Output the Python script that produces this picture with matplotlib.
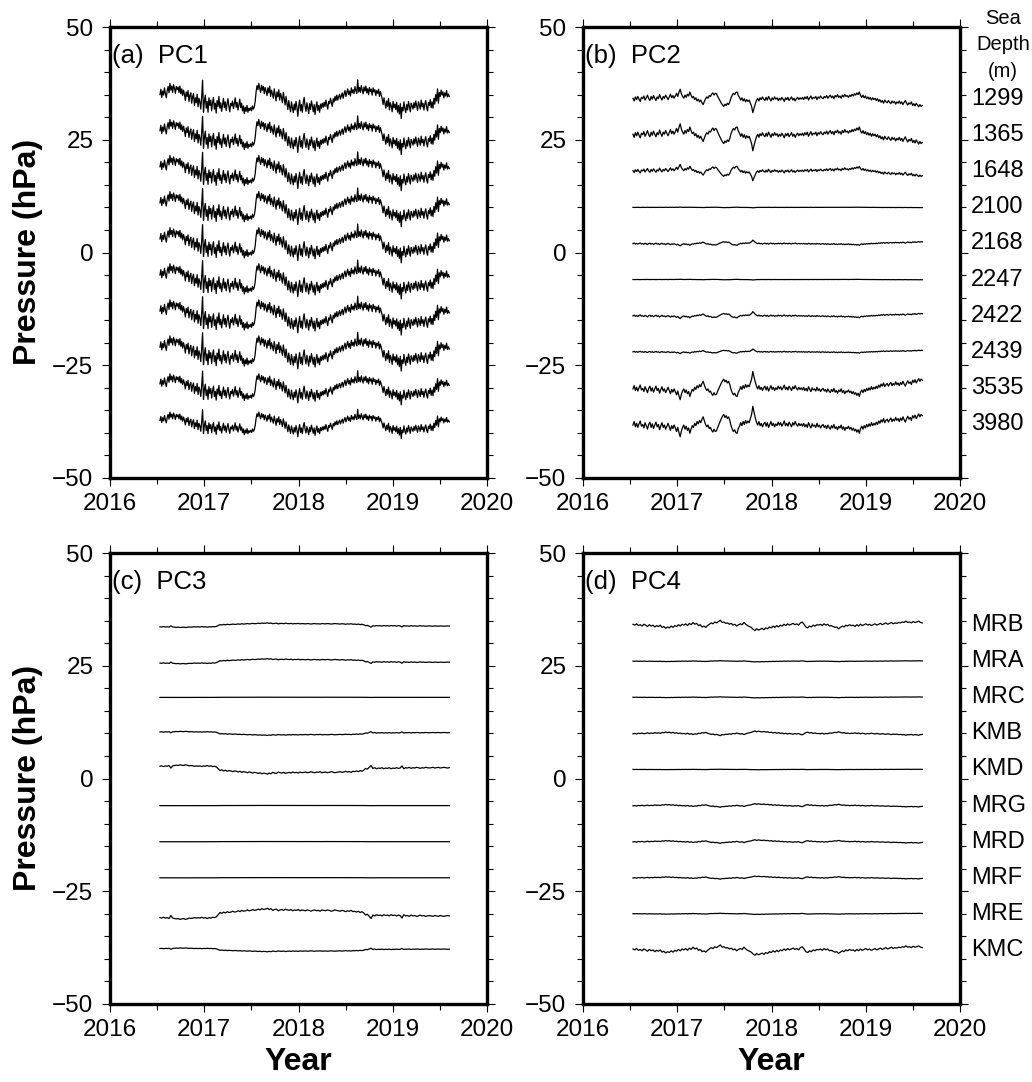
import numpy as np
import matplotlib.pyplot as plt

plt.rcParams['font.family'] = ['Liberation Sans', 'DejaVu Sans']

# station offsets in the stacked plot (hPa) and labels
offsets = [34, 26, 18, 10, 2, -6, -14, -22, -30, -38]
depths = ['1299', '1365', '1648', '2100', '2168', '2247', '2422', '2439', '3535', '3980']
stations = ['MRB', 'MRA', 'MRC', 'KMB', 'KMD', 'MRG', 'MRD', 'MRF', 'MRE', 'KMC']

t_start, t_end = 2016.53, 2019.60

# principal component time series (hPa for a unit loading)
pc1 = [1.0, 2.2, 0.4, 1.8, 0.9, 2.5, 1.2, 0.3, 1.9, 2.8, 1.4, 3.5, 2.0, 2.9, 1.5, 3.2, 2.4, 1.3, 2.8, 2.1,
       2.7, 1.5, 2.9, 1.2, 2.3, 0.8, 2.0, 1.1, -0.3, 1.6, 0.6, 1.9, -0.5, 0.8, 1.4, -0.9, 0.5, 1.2, -1.4, 0.3,
       -0.8, 1.1, -1.7, 0.2, -0.6, -2.2, 0.6, 4.2, -2.9, -0.4, 0.9, -2.0, -0.5, -2.9, 0.3, -1.4, -0.2, -2.6, -0.7, 0.4,
       -2.2, -0.9, -3.1, -0.3, -1.6, 0.6, -2.0, -0.8, -2.7, -1.2, 0.2, -1.9, -0.6, -2.5, -1.0, 0.1, -1.7, -2.8, -0.9, -1.5,
       -0.4, -2.1, -1.0, 0.3, -1.8, -0.7, -2.4, -1.3, 0.0, -1.9, -0.9, -2.6, -1.5, -3.2, -1.8, -2.7, -1.4, -2.9, -2.0, -2.5,
       -1.9, -2.6, -1.5, -2.2, -1.7, -0.5, 1.6, 3.0, 2.1, 3.5, 2.4, 1.5, 3.1, 2.0, 2.8, 1.2, 2.6, 1.8, 0.8, 2.5,
       1.4, 2.9, 0.6, 2.0, 1.2, 0.2, 2.3, 1.0, -0.4, 1.6, 0.5, 2.1, -0.2, 1.3, 0.4, -0.8, 1.5, 0.1, -1.3, 0.6,
       -0.9, -2.3, -0.3, -1.7, -2.8, -0.6, -1.9, -3.0, -1.1, -2.4, -0.5, -1.8, -3.8, -1.5, -0.2, -2.6, -1.2, -2.9, -0.7, 0.4,
       -1.6, -2.7, -0.8, -1.9, -3.2, -1.0, -2.3, -0.4, -1.5, -2.8, -1.2, -3.4, -1.7, -0.6, -2.5, -1.4, -2.9, -1.1, -2.0, -0.9,
       -1.8, -0.7, -1.6, -0.2, -1.3, -2.2, -0.5, -1.0, 0.2, -0.8, -1.6, 0.1, -0.6, 0.6, -0.3, 0.9, -0.2, 0.5, 1.1, 0.0,
       0.8, 1.4, 0.2, 1.2, 1.9, 0.6, 1.5, 2.3, 1.0, 1.8, 0.7, 2.5, 1.4, 2.1, 1.2, 2.8, 1.9, 1.3, 4.3, 1.6,
       2.6, 1.5, 3.0, 2.0, 1.2, 2.7, 1.8, 2.9, 1.4, 2.3, 1.0, 2.6, 1.7, 2.2, 0.9, 2.5, 1.6, 2.1, 0.8, 1.9,
       1.3, 2.2, 0.6, 1.7, 0.9, 0.1, -1.2, 0.3, -0.9, -2.0, -0.4, -1.6, 0.2, -2.4, -0.8, -1.5, -2.8, -0.5, -1.9, -1.1,
       -2.3, -0.7, -2.9, -1.4, -3.3, -1.0, -4.3, -1.8, -2.6, -0.6, -2.1, -3.0, -1.2, -2.4, -0.5, -1.7, -2.8, -0.9, -1.5, -2.2,
       -0.8, -1.9, -0.4, -1.5, -2.5, -0.6, -1.3, -2.2, -0.2, -1.7, -0.9, -2.4, -1.1, -0.3, -1.8, -2.6, -0.7, -1.4, -0.1, -1.9,
       -0.6, -2.0, 0.2, -1.1, 1.0, -0.4, 2.3, -0.9, 1.5, 0.6, 2.0, 0.9, 1.6, 0.3, 1.4, 0.7, 1.9, 0.5, 1.1, 0.6]

pc2 = [0.2, -0.4, 0.5, -0.1, 0.6, 0.0, -0.5, 0.4, 0.1, 0.7, -0.2, 0.3, 0.9, 0.1, -0.3, 0.6, 0.0, 0.8, 0.2, -0.3,
       0.5, 0.1, 1.0, 0.3, -0.2, 0.6, 0.2, 0.9, 0.4, -0.1, 0.5, 1.1, 0.3, 0.8, 0.2, 0.7, 1.3, 0.6, 1.5, 2.2,
       1.2, 0.6, 0.2, 0.9, 0.4, 1.1, 0.7, 1.6, 0.9, 0.3, 0.6, -0.1, 0.3, -0.4, 0.0, -0.6, -0.2, -0.8, -1.2, -0.5,
       0.1, 0.5, 0.2, 0.8, 0.6, 1.1, 1.4, 0.9, 1.3, 1.2, 0.6, 0.1, -0.4, -0.9, -1.3, -1.6, -1.1, -1.4, -0.9, -1.2,
       -0.6, 0.3, 0.9, 1.3, 1.0, 1.5, 1.6, 0.8, 0.4, -0.2, 0.3, -0.4, 0.1, -0.6, -0.1, -0.5, -0.2, -0.9, -1.6, -3.0,
       -2.0, -1.1, -0.3, 0.2, -0.4, 0.3, -0.1, 0.5, 0.0, -0.3, 0.4, -0.2, 0.6, 0.1, -0.4, 0.3, -0.1, 0.5, 0.0, 0.3,
       -0.3, 0.2, -0.2, 0.4, 0.0, -0.5, 0.3, -0.1, 0.4, -0.3, 0.1, 0.5, -0.2, 0.2, -0.4, 0.1, 0.4, -0.1, 0.3, 0.0,
       0.4, -0.1, 0.5, 0.1, 0.6, -0.2, 0.3, 0.7, 0.0, 0.4, 0.2, 0.6, -0.1, 0.5, 0.2, 0.7, 0.3, 0.1, 0.6, 0.3,
       0.8, 0.2, 0.6, 0.9, 0.3, 0.7, 0.1, 0.8, 0.5, 1.0, 0.4, 0.7, 0.2, 0.9, 0.5, 1.1, 0.6, 0.8, 0.4, 0.9,
       0.6, 1.1, 0.7, 1.2, 0.9, 1.4, 1.0, 1.6, 0.8, 0.4, 0.9, 0.3, 0.7, 0.1, 0.5, 0.0, 0.4, -0.2, 0.3, -0.1,
       0.2, -0.3, 0.1, -0.5, -0.1, -0.7, -0.3, -0.9, -0.2, -0.6, -0.8, -0.3, -0.7, -1.0, -0.4, -0.8, -0.5, -1.1, -0.6, -0.9,
       -0.4, -1.0, -0.6, -1.2, -0.7, -0.3, -0.9, -1.3, -0.8, -1.1, -0.6, -1.4, -1.0, -1.5, -0.9, -1.3, -1.7, -1.2, -1.6, -1.4]

pc3 = [-0.9, -1.0, -0.8, -1.0, -0.9, -1.1, -0.4, -1.0, -1.1, -1.2,
       -1.1, -1.3, -1.2, -1.1, -1.3, -1.2, -1.0, -1.1, -1.0, -0.9,
       -1.0, -0.9, -1.0, -0.8, -1.0, -0.9, -1.1, -0.9, -1.0, -0.8,
       -0.9, -0.7, -0.2, 0.3, 0.1, 0.4, 0.2, 0.5, 0.3, 0.4,
       0.6, 0.4, 0.5, 0.7, 0.5, 0.8, 0.6, 0.7, 0.9, 0.7,
       0.8, 1.0, 0.8, 0.9, 1.1, 0.9, 1.2, 1.0, 1.1, 1.3,
       1.0, 1.2, 0.8, 1.0, 1.1, 0.7, 0.9, 1.0, 0.8, 1.1,
       0.9, 0.8, 1.0, 0.7, 0.9, 0.8, 1.0, 0.7, 0.9, 0.8,
       0.7, 0.9, 0.8, 0.6, 0.8, 0.9, 0.7, 0.8, 0.6, 0.9,
       0.8, 0.7, 0.9, 0.8, 0.6, 0.7, 0.9, 0.8, 0.7, 0.6,
       0.8, 0.7, 0.5, 0.7, 0.6, 0.8, 0.5, 0.6, 0.4, 0.6,
       0.3, 0.5, 0.2, -0.3, -0.1, -0.6, -1.1, -0.3, -0.5, -0.2,
       -0.4, -0.3, -0.5, -0.2, -0.4, -0.3, -0.5, -0.2, -0.4, -0.3,
       -0.5, -0.3, -0.4, -1.0, -0.2, -0.5, -0.4, -0.6, -0.3, -0.5,
       -0.4, -0.6, -0.5, -0.3, -0.5, -0.4, -0.6, -0.5, -0.4, -0.5,
       -0.6, -0.4, -0.5, -0.6, -0.4, -0.5, -0.6, -0.5, -0.4, -0.5]

pc4 = [0.2, 0.0, 0.3, -0.1, 0.1, -0.2, 0.2, 0.0, -0.3, 0.1,
       -0.2, 0.0, -0.4, -0.1, -0.3, 0.0, -0.5, -0.3, -0.7, -0.4,
       -0.6, -0.2, -0.5, -0.1, -0.3, 0.1, -0.2, 0.2, 0.0, 0.3,
       -0.1, 0.4, 0.1, 0.6, 0.2, 0.4, -0.1, 0.1, -0.4, -0.2,
       -0.5, -0.1, 0.2, 0.5, 0.3, 0.7, 0.5, 0.8, 1.1, 0.6,
       0.7, 0.4, 0.5, 0.2, 0.4, 0.0, 0.2, -0.2, 0.1, 0.3,
       0.1, 0.6, 0.2, -0.1, -0.3, -0.5, -0.9, -1.2, -0.8, -1.1,
       -0.9, -0.7, -1.0, -0.6, -0.8, -0.4, -0.6, -0.2, -0.5, -0.1,
       -0.4, 0.0, -0.2, 0.2, -0.1, 0.3, 0.0, 0.2, 0.4, 0.1,
       0.3, 0.0, 0.5, 0.7, 0.2, -0.4, -0.6, -0.2, -0.4, 0.0,
       -0.2, 0.1, 0.0, 0.2, -0.1, 0.3, 0.0, 0.2, -0.2, -0.1,
       -0.3, -0.5, -0.4, -0.8, -0.5, -0.2, -0.4, 0.0, -0.2, 0.1,
       -0.1, 0.0, -0.3, 0.1, -0.2, 0.2, -0.1, 0.1, 0.3, 0.0,
       0.2, -0.1, 0.1, 0.3, 0.0, 0.2, 0.4, 0.1, 0.3, 0.5,
       0.2, 0.4, 0.6, 0.3, 0.5, 0.4, 0.6, 0.5, 0.7, 0.6,
       0.9, 0.6, 0.7, 0.5, 0.8, 0.6, 0.7, 0.9, 0.6, 0.5]

# loadings of each station on each PC
load1 = [1.0, 1.0, 1.0, 1.0, 1.0, 1.0, 1.0, 1.0, 0.88, 0.75]
load2 = [1.0, 1.15, 0.7, 0.03, -0.25, 0.03, -0.3, -0.2, -1.2, -1.3]
load3 = [0.4, 0.45, 0.02, -0.35, -0.8, 0.02, 0.02, 0.02, 0.95, -0.33]
load4 = [1.0, 0.12, 0.1, -0.45, 0.05, -0.35, -0.35, -0.3, 0.12, 1.0]

panels = [('(a)  PC1', pc1, load1), ('(b)  PC2', pc2, load2),
          ('(c)  PC3', pc3, load3), ('(d)  PC4', pc4, load4)]

W, H = 1032, 1082
fig = plt.figure(figsize=(W / 100, H / 100), dpi=100)

# axes boxes in pixels: left, top, right, bottom
boxes = [(110, 27, 487, 478), (583, 27, 960, 478),
         (110, 553, 487, 1004), (583, 553, 960, 1004)]

axes = []
for (title, pc, load), (l, t, r, b) in zip(panels, boxes):
    ax = fig.add_axes([l / W, 1 - b / H, (r - l) / W, (b - t) / H])
    tt = np.linspace(t_start, t_end, len(pc))
    for off, w in zip(offsets, load):
        ax.plot(tt, off + w * np.array(pc), color='black', lw=0.9)

    ax.set_xlim(2016, 2020)
    ax.set_ylim(-50, 50)
    ax.set_xticks(np.arange(2016, 2021, 1))
    ax.set_xticklabels([str(y) for y in range(2016, 2021)])
    ax.set_xticks(np.arange(2016, 2020.1, 0.5), minor=True)
    ax.set_yticks([-50, -25, 0, 25, 50])
    ax.set_yticks(np.arange(-50, 51, 5), minor=True)
    ax.tick_params(which='both', direction='out', top=True, right=True,
                   width=0.8, labelsize=17.5, color='black')
    ax.tick_params(which='major', length=6)
    ax.tick_params(which='minor', length=4)
    ax.tick_params(axis='x', pad=5)
    ax.tick_params(axis='y', pad=6)
    for s in ax.spines.values():
        s.set_linewidth(2.4)
    ax.text(0.005, 0.92, title, transform=ax.transAxes, fontsize=18.5,
            ha='left', va='baseline')
    axes.append(ax)

# right hand labels: sea depth and station names
for off, d in zip(offsets, depths):
    axes[1].text(1.03, off, d, transform=axes[1].get_yaxis_transform(),
                 fontsize=17, ha='left', va='center')
for off, s in zip(offsets, stations):
    axes[3].text(1.03, off, s, transform=axes[3].get_yaxis_transform(),
                 fontsize=17, ha='left', va='center')

for i, line in enumerate(['Sea', 'Depth', '(m)']):
    fig.text(1003 / W, 1 - (19 + 26 * i) / H, line, fontsize=14.5,
             ha='center', va='center')

# axis titles
for y0 in (252, 778):
    fig.text(28 / W, 1 - y0 / H, 'Pressure (hPa)', rotation=90, fontsize=23,
             fontweight='bold', ha='center', va='center')
for x0 in (298, 771):
    fig.text(x0 / W, 1 - 1062 / H, 'Year', fontsize=23, fontweight='bold',
             ha='center', va='center')

plt.savefig('out.png', dpi=100)
